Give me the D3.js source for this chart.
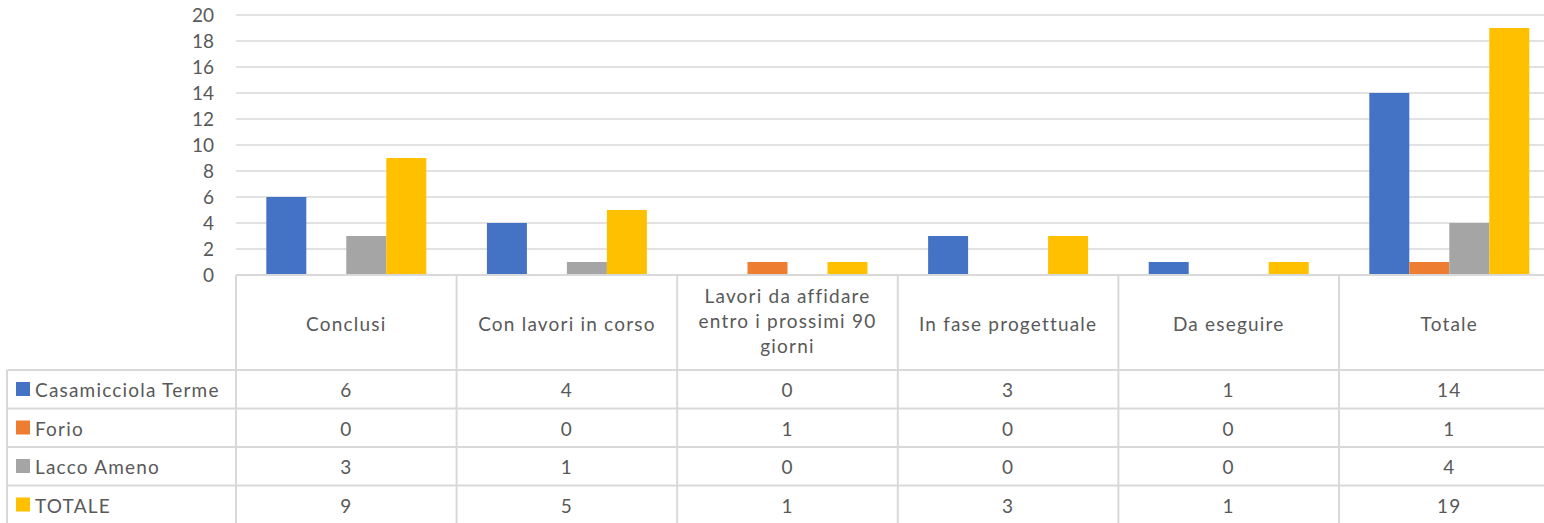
<!DOCTYPE html>
<html>
<head>
<meta charset="utf-8">
<script src="https://cdn.jsdelivr.net/npm/d3@7"></script>
<style>
  html, body { margin: 0; padding: 0; background: #fff; }
  svg { display: block; font-family: Lato, "Open Sans", sans-serif; }
  .tbl { letter-spacing: 1.2px; }
</style>
</head>
<body>
<svg id="chart" width="1544" height="523"></svg>
<script>
// Categories (header row of the data table)
const categories = [
  ["Conclusi"],
  ["Con lavori in corso"],
  ["Lavori da affidare", "entro i prossimi 90", "giorni"],
  ["In fase progettuale"],
  ["Da eseguire"],
  ["Totale"]
];
const categoryKeys = ["Conclusi", "Con lavori in corso", "Lavori da affidare entro i prossimi 90 giorni", "In fase progettuale", "Da eseguire", "Totale"];

// Series
const seriesNames = ["Casamicciola Terme", "Forio", "Lacco Ameno", "TOTALE"];
const seriesColors = ["#4472C4", "#ED7D31", "#A5A5A5", "#FFC000"];
const casamicciola = [6, 4, 0, 3, 1, 14];
const forio = [0, 0, 1, 0, 0, 1];
const laccoAmeno = [3, 1, 0, 0, 0, 4];
const totale = [9, 5, 1, 3, 1, 19];
const seriesValues = [casamicciola, forio, laccoAmeno, totale];

// Y axis ticks
const yTicks = [0, 2, 4, 6, 8, 10, 12, 14, 16, 18, 20];

const svg = d3.select("#chart");
const gridColor = "#d9d9d9";
const textColor = "#595959";
const fontSize = 19;

const plotLeft = 236, plotTop = 15, plotBottom = 275;
const colWidth = 220.6;
const plotRight = plotLeft + colWidth * categoryKeys.length;

const y = d3.scaleLinear().domain([0, 20]).range([plotBottom, plotTop]);
const x0 = d3.scaleBand().domain(categoryKeys).range([plotLeft, plotRight]).padding(0);
const x1 = d3.scaleBand().domain(seriesNames).range([0, x0.bandwidth()])
  .paddingInner(0).paddingOuter(0.758);

// Gridlines
svg.append("g").selectAll("line").data(yTicks.filter(d => d > 0)).join("line")
  .attr("x1", plotLeft).attr("x2", plotRight)
  .attr("y1", d => y(d)).attr("y2", d => y(d))
  .attr("stroke", gridColor).attr("stroke-width", 1.5);

// Y tick labels
svg.append("g").selectAll("text").data(yTicks).join("text")
  .attr("x", 214).attr("y", d => y(d))
  .attr("dy", "0.36em")
  .attr("text-anchor", "end")
  .attr("fill", textColor).attr("font-size", fontSize)
  .text(d => d);

// Bars
const groups = svg.append("g").selectAll("g").data(categoryKeys).join("g")
  .attr("transform", d => `translate(${x0(d)},0)`);
groups.selectAll("rect")
  .data((c, ci) => seriesNames.map((s, si) => ({ s, si, v: seriesValues[si][ci] })))
  .join("rect")
  .attr("x", d => x1(d.s))
  .attr("width", x1.bandwidth())
  .attr("y", d => y(d.v))
  .attr("height", d => y(0) - y(d.v))
  .attr("fill", d => seriesColors[d.si]);

// Data table
const tableLeft = 7;
const headerBottom = 370;
const rowH = 38.5;
const tableBottom = headerBottom + rowH * seriesNames.length;
const table = svg.append("g").attr("class", "tbl");

// horizontal rules
table.append("line")
  .attr("x1", plotLeft).attr("x2", plotRight)
  .attr("y1", plotBottom).attr("y2", plotBottom)
  .attr("stroke", gridColor).attr("stroke-width", 2);
table.selectAll("line.h").data(d3.range(seriesNames.length + 1)).join("line")
  .attr("class", "h")
  .attr("x1", tableLeft).attr("x2", plotRight)
  .attr("y1", i => headerBottom + i * rowH).attr("y2", i => headerBottom + i * rowH)
  .attr("stroke", gridColor).attr("stroke-width", 2);

// vertical rules
table.append("line")
  .attr("x1", tableLeft).attr("x2", tableLeft)
  .attr("y1", headerBottom).attr("y2", tableBottom)
  .attr("stroke", gridColor).attr("stroke-width", 2);
table.selectAll("line.v").data(categoryKeys).join("line")
  .attr("class", "v")
  .attr("x1", d => x0(d)).attr("x2", d => x0(d))
  .attr("y1", plotBottom).attr("y2", tableBottom)
  .attr("stroke", gridColor).attr("stroke-width", 2);

// header labels
const lineH = 25;
table.selectAll("text.cat").data(categories).join("text")
  .attr("class", "cat")
  .attr("x", (d, i) => x0(categoryKeys[i]) + x0.bandwidth() / 2)
  .attr("y", d => 331 - (d.length - 1) * lineH / 2 - (d.length > 1 ? 3 : 0))
  .attr("text-anchor", "middle")
  .attr("fill", textColor).attr("font-size", fontSize)
  .each(function (d) {
    const t = d3.select(this);
    const x = t.attr("x");
    d.forEach((line, li) => {
      t.append("tspan").attr("x", x).attr("dy", li === 0 ? 0 : lineH).text(line);
    });
  });

// legend cells and values
seriesNames.forEach((name, si) => {
  const top = headerBottom + si * rowH;
  table.append("rect")
    .attr("x", 16).attr("y", top + 12)
    .attr("width", 14).attr("height", 14)
    .attr("fill", seriesColors[si]);
  table.append("text")
    .attr("x", 35).attr("y", top + 27)
    .attr("fill", textColor).attr("font-size", fontSize)
    .text(name);
  categoryKeys.forEach((c, ci) => {
    table.append("text")
      .attr("x", x0(c) + x0.bandwidth() / 2)
      .attr("y", top + 27)
      .attr("text-anchor", "middle")
      .attr("fill", textColor).attr("font-size", fontSize)
      .text(seriesValues[si][ci]);
  });
});
</script>
</body>
</html>
